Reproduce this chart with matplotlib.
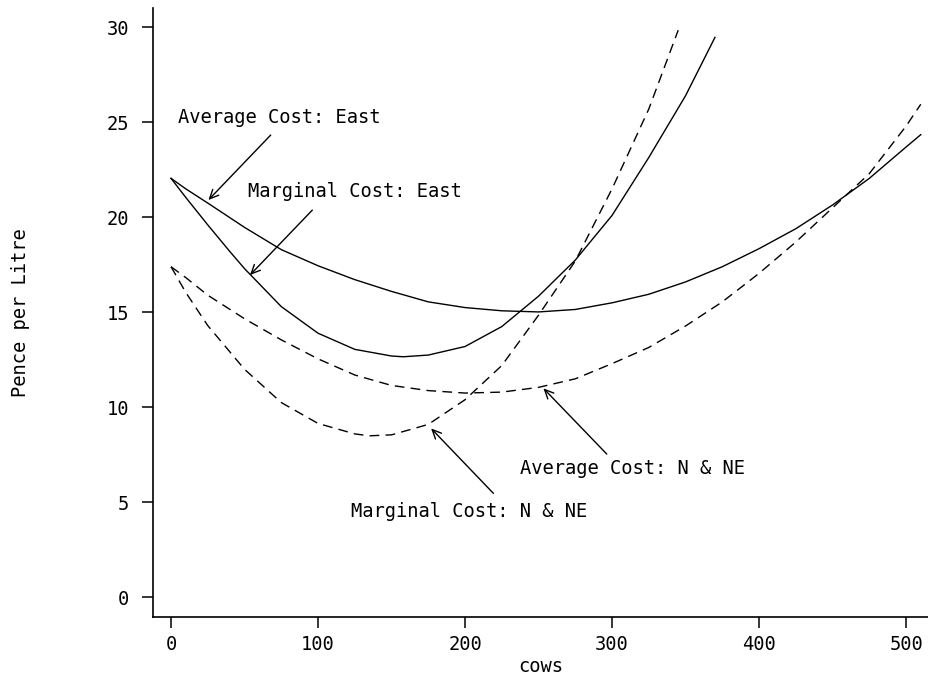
import matplotlib
matplotlib.use('Agg')
import matplotlib.pyplot as plt

plt.rcParams['font.family'] = 'DejaVu Sans Mono'

# values
ac_east_x = [0, 10, 25, 50, 75, 100, 125, 150, 175, 200, 225, 250, 275, 300,
             325, 350, 375, 400, 425, 450, 475, 500, 510]
ac_east_y = [22.05, 21.5, 20.75, 19.47, 18.3, 17.45, 16.72, 16.1, 15.55, 15.25, 15.08, 15.02, 15.15, 15.5,
             15.95, 16.6, 17.4, 18.35, 19.4, 20.65, 22.05, 23.7, 24.35]

mc_east_x = [0, 10, 25, 40, 50, 75, 100, 125, 150, 158, 175, 200, 225, 250, 275,
             300, 325, 350, 370]
mc_east_y = [22.05, 21.05, 19.6, 18.2, 17.3, 15.3, 13.9, 13.05, 12.7, 12.66, 12.75, 13.2, 14.25, 15.85, 17.75,
             20.1, 23.15, 26.4, 29.47]

mc_nne_x = [0, 10, 25, 50, 75, 100, 125, 135, 150, 175, 200, 225, 250, 275,
            300, 325, 345]
mc_nne_y = [17.4, 16.05, 14.3, 12.0, 10.25, 9.15, 8.6, 8.5, 8.55, 9.1, 10.4, 12.2, 14.85, 17.7,
            21.5, 25.7, 29.85]

ac_nne_x = [0, 10, 25, 50, 75, 100, 125, 150, 175, 200, 225, 250, 275, 300,
            325, 350, 375, 400, 425, 450, 475, 500, 510]
ac_nne_y = [17.4, 16.83, 15.9, 14.66, 13.55, 12.55, 11.7, 11.15, 10.88, 10.75, 10.8, 11.05, 11.5, 12.3,
            13.15, 14.28, 15.55, 17.05, 18.7, 20.5, 22.3, 24.8, 25.95]

x_ticks = [0, 100, 200, 300, 400, 500]
y_ticks = [0, 5, 10, 15, 20, 25, 30]

fig = plt.figure(figsize=(9.29, 6.77), dpi=100)
ax = fig.add_axes([0.1644, 0.0891, 0.8356, 0.8986])

ax.plot(ac_east_x, ac_east_y, color='black', lw=1.0)
ax.plot(mc_east_x, mc_east_y, color='black', lw=1.0)
ax.plot(mc_nne_x, mc_nne_y, color='black', lw=1.0, dashes=(7, 4.5))
ax.plot(ac_nne_x, ac_nne_y, color='black', lw=1.0, dashes=(7, 4.5))

ax.set_xlim(-12.45, 515.6)
ax.set_ylim(-1.02, 31.0)
ax.set_xticks(x_ticks)
ax.set_yticks(y_ticks)
ax.spines['top'].set_visible(False)
ax.spines['right'].set_visible(False)
for s in ['left', 'bottom']:
    ax.spines[s].set_linewidth(1.2)
ax.tick_params(axis='both', direction='out', length=8, width=1.1, labelsize=13.5)
ax.tick_params(axis='y', pad=9)
ax.tick_params(axis='x', pad=5)

ax.set_xlabel('cows', fontsize=13.5, labelpad=2)
ax.set_ylabel('Pence per Litre', fontsize=13.5, labelpad=55)

arrow = dict(arrowstyle='->,head_length=0.65,head_width=0.3', lw=1.0, color='black',
             shrinkA=0, shrinkB=0)
txt = dict(fontsize=13.5, ha='left', va='center')

ax.annotate('', xy=(25.4, 20.91), xytext=(67.8, 24.33), arrowprops=arrow)
ax.text(5.0, 25.25, 'Average Cost: East', **txt)

ax.annotate('', xy=(53.7, 16.96), xytext=(96.1, 20.38), arrowprops=arrow)
ax.text(52.6, 21.35, 'Marginal Cost: East', **txt)

ax.annotate('', xy=(176.9, 8.89), xytext=(219.3, 5.47), arrowprops=arrow)
ax.text(122.2, 4.5, 'Marginal Cost: N & NE', **txt)

ax.annotate('', xy=(253.3, 11.0), xytext=(296.4, 7.54), arrowprops=arrow)
ax.text(237.4, 6.8, 'Average Cost: N & NE', **txt)

fig.savefig('out.png', dpi=100)
